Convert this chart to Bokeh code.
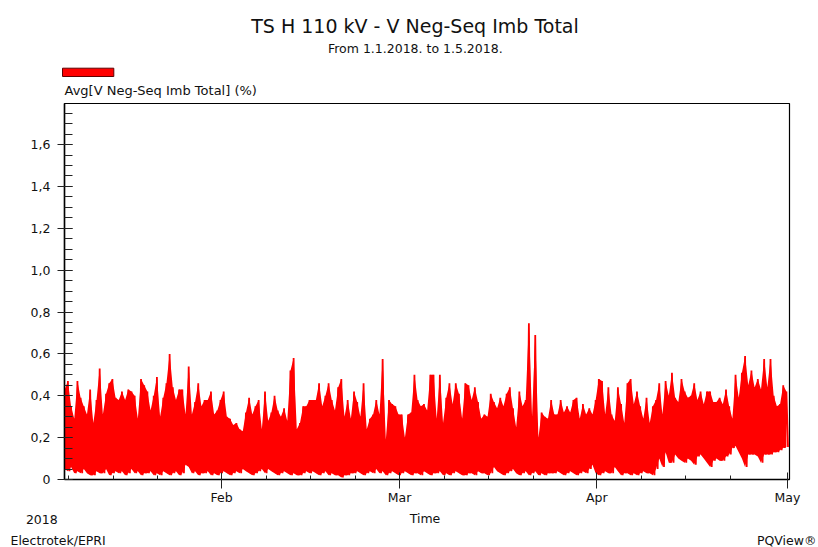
from datetime import datetime, timedelta

from bokeh.plotting import figure
from bokeh.layouts import column
from bokeh.models import (Range1d, FixedTicker, DatetimeTickFormatter,
                          CustomJSTickFormatter, ColumnDataSource)
from bokeh.core.properties import value
from bokeh.embed import file_html
from bokeh.resources import INLINE

FONT = "DejaVu Sans"
INK = "#111111"
RED = "#FF0000"

# ---------------- texts ----------------
title_text = "TS H 110 kV - V Neg-Seq Imb Total"
subtitle_text = "From 1.1.2018. to 1.5.2018."
series_label = "Avg[V Neg-Seq Imb Total] (%)"
x_axis_title = "Time"
year_label = "2018"
left_footer = "Electrotek/EPRI"
right_footer = "PQView\u00ae"

# ---------------- data ----------------
# one peak (max) and one trough (min) value per 12-hour block
series_start = datetime(2018, 1, 7, 8, 0)
block_hours = 12

peaks_jan = [0.43, 0.47, 0.35, 0.29, 0.47, 0.39, 0.35, 0.31, 0.43, 0.27,
             0.38, 0.53, 0.31, 0.41, 0.46, 0.48, 0.39, 0.38, 0.42, 0.38,
             0.43, 0.42, 0.40, 0.29, 0.48, 0.45, 0.42, 0.33, 0.40, 0.49,
             0.30, 0.39, 0.46, 0.60, 0.44, 0.38, 0.43, 0.43]
peaks_feb = [0.31, 0.54, 0.31, 0.37, 0.46, 0.35, 0.38, 0.38, 0.42, 0.31,
             0.33, 0.38, 0.42, 0.30, 0.29, 0.26, 0.27, 0.24, 0.23, 0.32,
             0.39, 0.31, 0.35, 0.38, 0.24, 0.42, 0.28, 0.32, 0.40, 0.33,
             0.30, 0.34, 0.28, 0.52, 0.58, 0.24, 0.27, 0.35, 0.35]
peaks_mar = [0.38, 0.38, 0.38, 0.46, 0.35, 0.40, 0.46, 0.38, 0.33, 0.44,
             0.48, 0.30, 0.38, 0.29, 0.42, 0.37, 0.30, 0.46, 0.24, 0.29,
             0.31, 0.38, 0.31, 0.575, 0.19, 0.38, 0.36, 0.35, 0.31, 0.31,
             0.20, 0.31, 0.32, 0.50, 0.38, 0.35, 0.36, 0.33, 0.50, 0.50,
             0.29, 0.50, 0.27, 0.39, 0.46, 0.36, 0.46, 0.41, 0.29, 0.46,
             0.45, 0.38, 0.44, 0.37, 0.29, 0.31, 0.30, 0.41, 0.37, 0.34,
             0.39, 0.35, 0.41, 0.44, 0.34, 0.25, 0.42, 0.35, 0.38, 0.746,
             0.30, 0.69, 0.20, 0.32, 0.30, 0.29, 0.38]
peaks_apr = [0.31, 0.31, 0.38, 0.32, 0.35, 0.32, 0.38, 0.39, 0.29, 0.36,
             0.31, 0.34, 0.31, 0.38, 0.48, 0.47, 0.31, 0.44, 0.31, 0.28,
             0.44, 0.36, 0.27, 0.46, 0.48, 0.36, 0.42, 0.35, 0.29, 0.39,
             0.27, 0.35, 0.38, 0.46, 0.31, 0.47, 0.40]
peaks_late_apr = [0.51, 0.39, 0.37, 0.48, 0.42, 0.39, 0.40, 0.46, 0.38, 0.42,
                  0.36, 0.42, 0.42, 0.37, 0.37, 0.39, 0.36, 0.43, 0.35, 0.29,
                  0.50, 0.39, 0.51, 0.59, 0.45, 0.52, 0.44, 0.48, 0.43, 0.575,
                  0.44, 0.575, 0.40, 0.35, 0.36, 0.45, 0.42]

troughs_jan = [0.05, 0.04, 0.06, 0.03, 0.04, 0.03, 0.05, 0.03, 0.02, 0.02,
               0.04, 0.03, 0.03, 0.05, 0.02, 0.03, 0.04, 0.03, 0.04, 0.02,
               0.03, 0.05, 0.03, 0.04, 0.02, 0.03, 0.03, 0.04, 0.02, 0.03,
               0.02, 0.04, 0.03, 0.02, 0.03, 0.04, 0.02, 0.03]
troughs_feb = [0.07, 0.06, 0.03, 0.04, 0.02, 0.03, 0.03, 0.04, 0.02, 0.03,
               0.02, 0.03, 0.04, 0.03, 0.02, 0.03, 0.04, 0.03, 0.05, 0.04,
               0.03, 0.02, 0.03, 0.04, 0.05, 0.03, 0.05, 0.04, 0.03, 0.02,
               0.03, 0.04, 0.03, 0.02, 0.03, 0.02, 0.02, 0.03, 0.04]
troughs_mar = [0.03, 0.04, 0.03, 0.02, 0.03, 0.04, 0.02, 0.03, 0.02, 0.02,
               0.01, 0.02, 0.02, 0.03, 0.03, 0.04, 0.03, 0.02, 0.03, 0.04,
               0.03, 0.05, 0.03, 0.04, 0.02, 0.03, 0.04, 0.03, 0.02, 0.03,
               0.04, 0.03, 0.02, 0.03, 0.03, 0.02, 0.04, 0.03, 0.02, 0.03,
               0.03, 0.04, 0.02, 0.03, 0.02, 0.03, 0.04, 0.03, 0.02, 0.02,
               0.03, 0.03, 0.02, 0.04, 0.03, 0.03, 0.02, 0.03, 0.06, 0.04,
               0.03, 0.02, 0.03, 0.04, 0.05, 0.03, 0.02, 0.03, 0.04, 0.02,
               0.03, 0.04, 0.02, 0.03, 0.02, 0.03, 0.03]
troughs_apr = [0.03, 0.04, 0.03, 0.02, 0.03, 0.04, 0.03, 0.02, 0.03, 0.04,
               0.03, 0.05, 0.07, 0.03, 0.02, 0.03, 0.04, 0.03, 0.03, 0.06,
               0.04, 0.02, 0.03, 0.03, 0.02, 0.03, 0.02, 0.03, 0.04, 0.03,
               0.03, 0.02, 0.05, 0.10, 0.06, 0.13, 0.08]
troughs_late_apr = [0.08, 0.12, 0.10, 0.09, 0.08, 0.10, 0.09, 0.07, 0.11, 0.12,
                    0.10, 0.08, 0.06, 0.09, 0.10, 0.09, 0.09, 0.11, 0.12, 0.15,
                    0.16, 0.13, 0.10, 0.06, 0.12, 0.12, 0.12, 0.11, 0.08, 0.12,
                    0.12, 0.12, 0.13, 0.13, 0.14, 0.15, 0.155]

# ---------------- axes ----------------
y_major_ticks = [0, 0.2, 0.4, 0.6, 0.8, 1, 1.2, 1.4, 1.6]
y_minor_step = 0.05
y_top = 1.796
x_start = datetime(2018, 1, 7, 7, 12)
x_end = datetime(2018, 5, 1, 7, 40)
x_major_ticks = [datetime(2018, 2, 1), datetime(2018, 3, 1),
                 datetime(2018, 4, 1), datetime(2018, 5, 1)]
x_minor_months = [1, 2, 3, 4]
x_minor_days = [8, 15, 22]

W = 818
HEAD_H, MAIN_H, FOOT_H = 102, 405, 40
BASE_SHIFT = 0.36   # em correction so the glyph baseline lands where wanted


def ms(dt):
    return (dt - datetime(1970, 1, 1)).total_seconds() * 1000.0


def blank(height):
    f = figure(width=W, height=height, x_range=Range1d(0, W),
               y_range=Range1d(height, 0),
               min_border_left=0, min_border_right=0,
               min_border_top=0, min_border_bottom=0,
               toolbar_location=None, output_backend="svg", title=None,
               x_axis_location=None, y_axis_location=None)
    f.frame_align = False
    f.grid.visible = False
    f.outline_line_color = None
    f.background_fill_color = "white"
    f.border_fill_color = "white"
    return f


def put_text(f, text, x, baseline, size_px, align):
    f.text(x=[x], y=[baseline - BASE_SHIFT * size_px], text=[text],
           text_font=value(FONT), text_font_size=value(f"{size_px}px"),
           text_color=INK, text_align=align, text_baseline="alphabetic")


# ---------------- header ----------------
head = blank(HEAD_H)
put_text(head, title_text, 414.5, 32.3, 19, "center")
put_text(head, subtitle_text, 414.8, 52.7, 12.5, "center")
head.quad(left=[62], right=[113.3], top=[67.7], bottom=[76],
          fill_color=RED, line_color="#600000", line_width=1)
put_text(head, series_label, 64, 95, 13, "left")

# ---------------- main chart ----------------
peaks = peaks_jan + peaks_feb + peaks_mar + peaks_apr + peaks_late_apr
troughs = troughs_jan + troughs_feb + troughs_mar + troughs_apr + troughs_late_apr

xs, ys, band_t = [], [], []
for i, (hi, lo) in enumerate(zip(peaks, troughs)):
    t = series_start + timedelta(hours=block_hours * i)
    band_t.append(t)
    xs += [t, t + timedelta(hours=block_hours / 2)]
    ys += [hi, lo]
src = ColumnDataSource(dict(t=xs, v=ys))
band = ColumnDataSource(dict(t=band_t, lo=troughs, hi=peaks))

p = figure(width=W, height=MAIN_H, x_axis_type="datetime", title=None,
           output_backend="svg", toolbar_location=None,
           x_range=Range1d(x_start, x_end), y_range=Range1d(0, y_top),
           min_border_left=64, min_border_right=29,
           min_border_top=1, min_border_bottom=26)
p.frame_align = False
p.xgrid.visible = False
p.ygrid.visible = False
p.background_fill_color = "white"
p.border_fill_color = "white"
p.outline_line_color = "black"
p.outline_line_width = 1.2

p.varea(x="t", y1="lo", y2="hi", source=band, fill_color=RED, fill_alpha=1.0)
p.line("t", "v", source=src, line_color=RED, line_width=1.8)

xminor = [ms(datetime(2018, m, d)) for m in x_minor_months for d in x_minor_days]
xa = p.xaxis[0]
xa.ticker = FixedTicker(ticks=[ms(t) for t in x_major_ticks], minor_ticks=xminor)
fmt = "%b"
xa.formatter = DatetimeTickFormatter(
    microseconds=fmt, milliseconds=fmt, seconds=fmt, minsec=fmt, minutes=fmt,
    hourmin=fmt, hours=fmt, days=fmt, months=fmt, years=fmt)
xa.axis_line_color = "black"
xa.axis_line_width = 1.5
xa.major_tick_in = 7
xa.major_tick_out = 9
xa.minor_tick_in = 4
xa.minor_tick_out = 0
xa.major_tick_line_color = "#222222"
xa.minor_tick_line_color = "#222222"
xa.major_label_text_font = FONT
xa.major_label_text_font_size = "12.5px"
xa.major_label_text_color = INK
xa.major_label_standoff = 1

ya = p.yaxis[0]
yminor = [round(y_minor_step * k, 2) for k in range(int(y_top / y_minor_step) + 1)]
ya.ticker = FixedTicker(ticks=y_major_ticks, minor_ticks=yminor)
ya.formatter = CustomJSTickFormatter(
    code="return tick === 0 ? '0' : tick.toFixed(1).replace('.', ',');")
ya.axis_line_color = "black"
ya.axis_line_width = 1.5
ya.major_tick_in = 8
ya.major_tick_out = 7
ya.minor_tick_in = 8
ya.minor_tick_out = 0
ya.major_tick_line_color = "#222222"
ya.minor_tick_line_color = "#222222"
ya.major_label_text_font = FONT
ya.major_label_text_font_size = "12.5px"
ya.major_label_text_color = INK
ya.major_label_standoff = 7

# ---------------- footer ----------------
foot = blank(FOOT_H)
put_text(foot, year_label, 41.3, 16.3, 12.5, "center")
put_text(foot, x_axis_title, 424.5, 15.2, 12.5, "center")
put_text(foot, left_footer, 10, 37.3, 12.5, "left")
put_text(foot, right_footer, 816, 37.3, 12.5, "right")

layout = column(head, p, foot, spacing=0)
open("out.html", "w").write(file_html(layout, INLINE))
